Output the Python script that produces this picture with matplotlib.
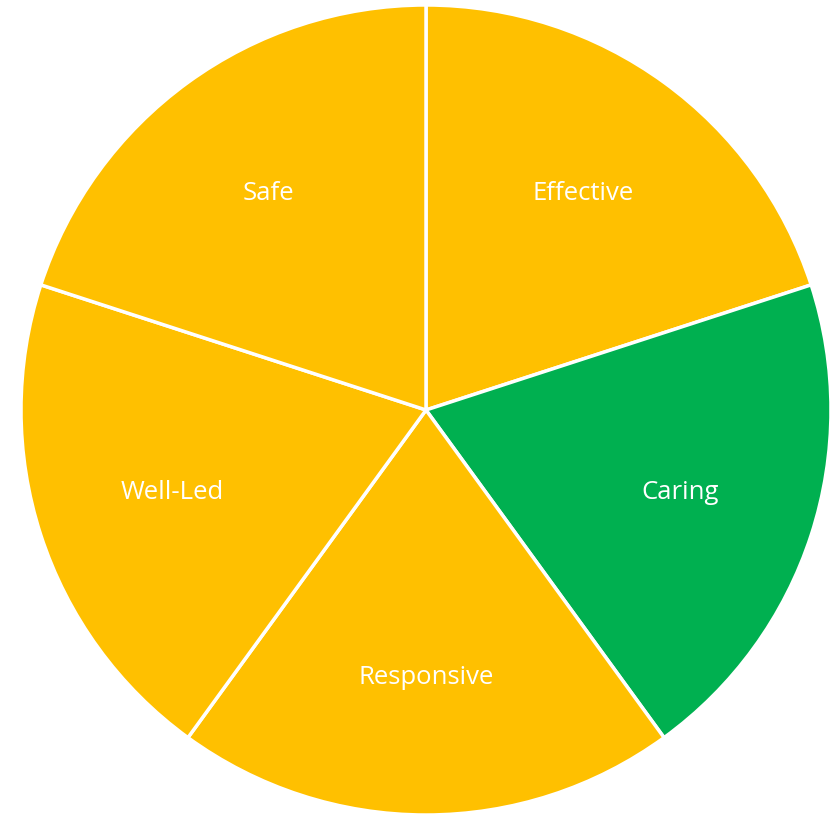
import matplotlib
matplotlib.use("Agg")
import matplotlib.pyplot as plt

categories = ["Effective", "Caring", "Responsive", "Well-Led", "Safe"]
values = [1, 1, 1, 1, 1]
colors = ["#FFC000", "#00B050", "#FFC000", "#FFC000", "#FFC000"]

fig = plt.figure(figsize=(8.36, 8.15), dpi=100)
W, H = 836, 815
cx, cy, r = 426, 410, 405
ax = fig.add_axes([(cx - r) / W, (H - cy - r) / H, 2 * r / W, 2 * r / H])
wedges, texts = ax.pie(values, labels=categories, colors=colors, startangle=90,
                       counterclock=False, labeldistance=0.66, radius=1,
                       wedgeprops=dict(edgecolor="white", linewidth=2.5))
for t in texts:
    t.set_ha("center")
    t.set_va("center")
    t.set_color("white")
    t.set_fontsize(18.5)
    t.set_family(["Open Sans", "DejaVu Sans"])
ax.set_xlim(-1, 1)
ax.set_ylim(-1, 1)
ax.set_aspect("auto")
ax.axis("off")
fig.savefig("out.png", dpi=100)
